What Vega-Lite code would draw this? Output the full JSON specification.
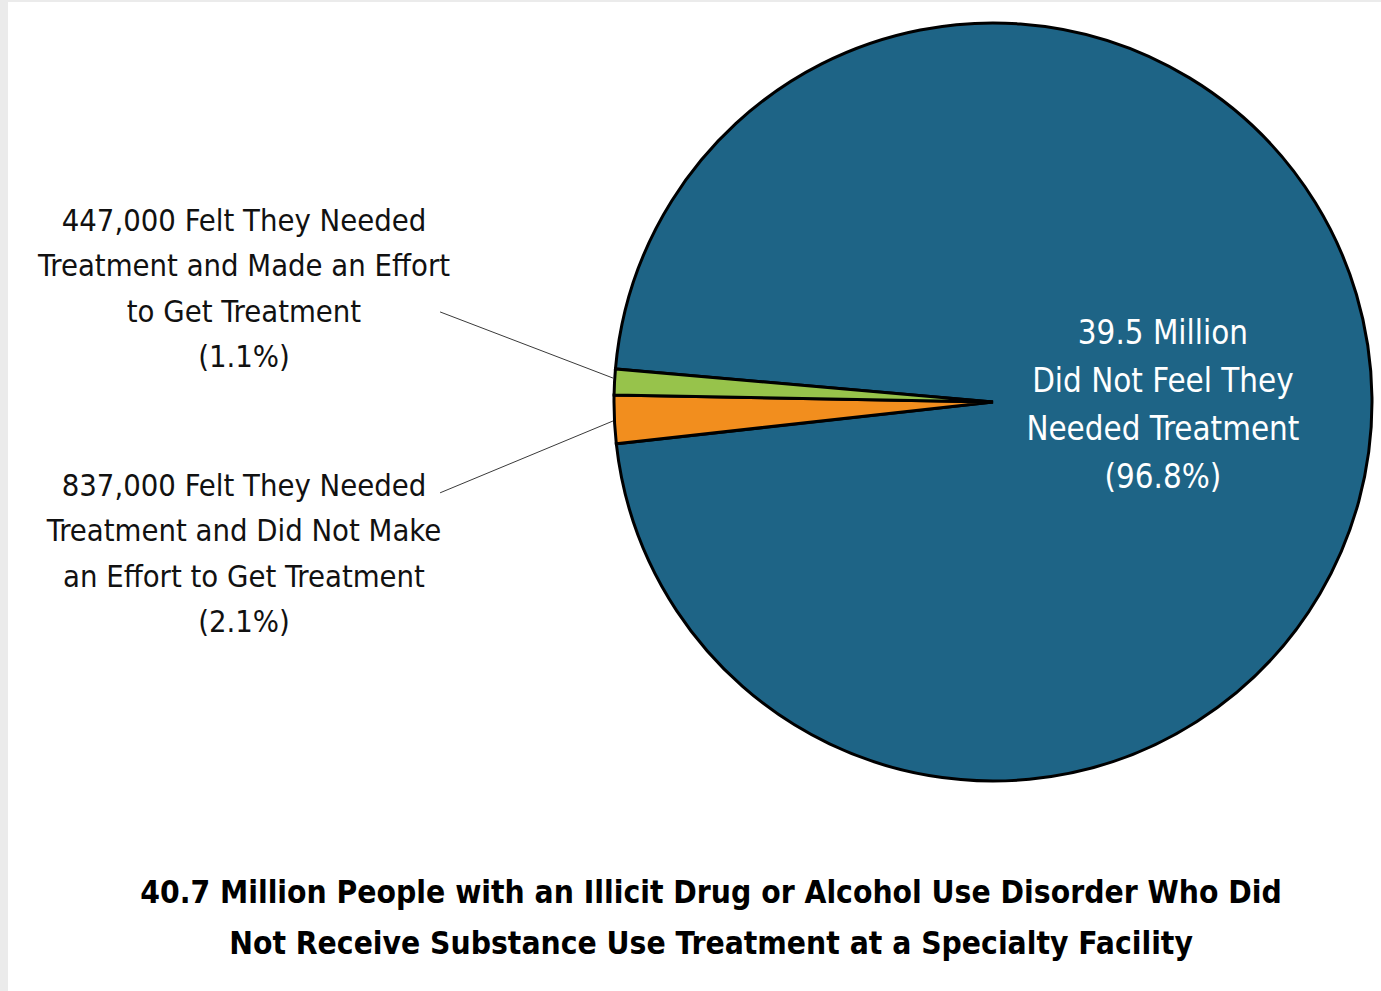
{
  "$schema": "https://vega.github.io/schema/vega-lite/v6.json",
  "width": 1373,
  "height": 989,
  "autosize": "none",
  "padding": {"left": 8, "top": 2, "right": 0, "bottom": 0},
  "background": "#ebebeb",
  "config": {"view": {"fill": "#ffffff", "stroke": null}},
  "datasets": {
    "slices": [
      {"group": "Did Not Feel They Needed Treatment", "people": 39500000, "seq": 3},
      {"group": "Felt They Needed Treatment and Did Not Make an Effort", "people": 837000, "seq": 1},
      {"group": "Felt They Needed Treatment and Made an Effort", "people": 447000, "seq": 2}
    ],
    "outside": [
      {"label": "447,000 Felt They Needed\nTreatment and Made an Effort\nto Get Treatment\n(1.1%)", "lx": -1.971, "ly": 0.474},
      {"label": "837,000 Felt They Needed\nTreatment and Did Not Make\nan Effort to Get Treatment\n(2.1%)", "lx": -1.971, "ly": -0.223}
    ],
    "inside": [
      {"label": "39.5 Million\nDid Not Feel They\nNeeded Treatment\n(96.8%)", "lx": 0.447, "ly": 0.179}
    ],
    "leaders": [
      {"x1": -1.455, "y1": 0.237, "x2": -1.0, "y2": 0.063},
      {"x1": -1.455, "y1": -0.239, "x2": -1.0, "y2": -0.05}
    ],
    "caption": [
      {"label": "40.7 Million People with an Illicit Drug or Alcohol Use Disorder Who Did\nNot Receive Substance Use Treatment at a Specialty Facility", "lx": -0.742, "ly": -1.295}
    ]
  },
  "layer": [
    {
      "data": {"name": "slices"},
      "mark": {"type": "arc", "outerRadius": 379, "stroke": "#000000", "strokeWidth": 3},
      "encoding": {
        "theta": {"field": "people", "type": "quantitative", "stack": true, "scale": {"range": [4.602, 10.885]}},
        "order": {"field": "seq", "type": "quantitative"},
        "color": {
          "field": "group", "type": "nominal", "legend": null,
          "scale": {
            "domain": ["Did Not Feel They Needed Treatment", "Felt They Needed Treatment and Did Not Make an Effort", "Felt They Needed Treatment and Made an Effort"],
            "range": ["#1e6486", "#f28e1e", "#97c34b"]
          }
        },
        "x": {"datum": 0, "type": "quantitative", "axis": null, "scale": {"domain": [-2.592, 1.021], "nice": false, "zero": false}},
        "y": {"datum": 0, "type": "quantitative", "axis": null, "scale": {"domain": [-1.55, 1.0526], "nice": false, "zero": false}}
      }
    },
    {
      "data": {"name": "leaders"},
      "mark": {"type": "rule", "color": "#3a3a3a", "strokeWidth": 1},
      "encoding": {
        "x": {"field": "x1", "type": "quantitative", "axis": null, "scale": {"domain": [-2.592, 1.021], "nice": false, "zero": false}},
        "y": {"field": "y1", "type": "quantitative", "axis": null, "scale": {"domain": [-1.55, 1.0526], "nice": false, "zero": false}},
        "x2": {"field": "x2"},
        "y2": {"field": "y2"}
      }
    },
    {
      "data": {"name": "outside"},
      "mark": {"type": "text", "font": "DejaVu Sans Condensed", "fontSize": 30.7, "lineHeight": 45.5, "lineBreak": "\n", "align": "center", "baseline": "middle", "color": "#111111"},
      "encoding": {
        "text": {"field": "label", "type": "nominal"},
        "x": {"field": "lx", "type": "quantitative", "axis": null, "scale": {"domain": [-2.592, 1.021], "nice": false, "zero": false}},
        "y": {"field": "ly", "type": "quantitative", "axis": null, "scale": {"domain": [-1.55, 1.0526], "nice": false, "zero": false}}
      }
    },
    {
      "data": {"name": "inside"},
      "mark": {"type": "text", "font": "DejaVu Sans Condensed", "fontSize": 32.8, "lineHeight": 48, "lineBreak": "\n", "align": "center", "baseline": "middle", "color": "#ffffff"},
      "encoding": {
        "text": {"field": "label", "type": "nominal"},
        "x": {"field": "lx", "type": "quantitative", "axis": null, "scale": {"domain": [-2.592, 1.021], "nice": false, "zero": false}},
        "y": {"field": "ly", "type": "quantitative", "axis": null, "scale": {"domain": [-1.55, 1.0526], "nice": false, "zero": false}}
      }
    },
    {
      "data": {"name": "caption"},
      "mark": {"type": "text", "font": "DejaVu Sans Condensed", "fontSize": 31.5, "fontWeight": "bold", "lineHeight": 51, "lineBreak": "\n", "align": "center", "baseline": "middle", "color": "#000000"},
      "encoding": {
        "text": {"field": "label", "type": "nominal"},
        "x": {"field": "lx", "type": "quantitative", "axis": null, "scale": {"domain": [-2.592, 1.021], "nice": false, "zero": false}},
        "y": {"field": "ly", "type": "quantitative", "axis": null, "scale": {"domain": [-1.55, 1.0526], "nice": false, "zero": false}}
      }
    }
  ]
}
